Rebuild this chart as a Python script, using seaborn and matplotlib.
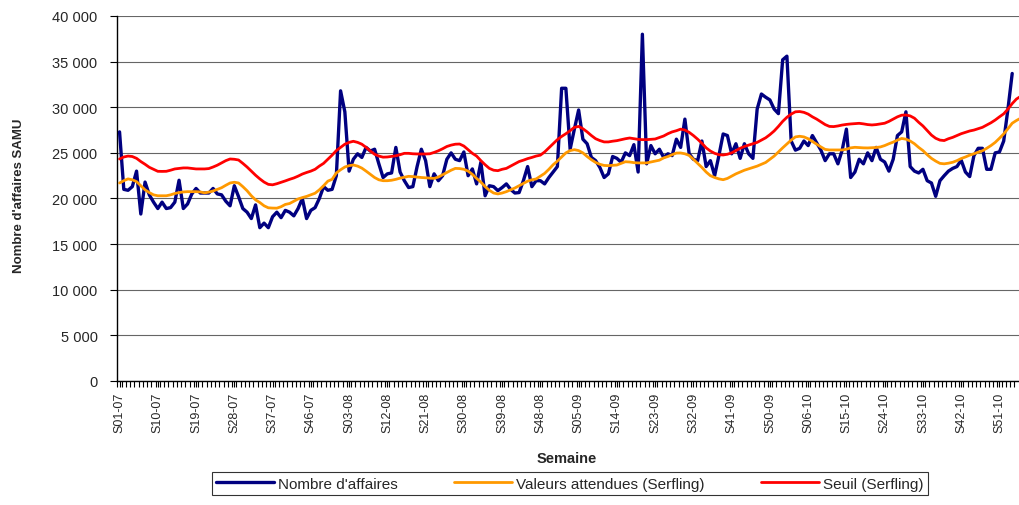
import numpy as np
import pandas as pd
import matplotlib
matplotlib.use("Agg")
import matplotlib.pyplot as plt
import seaborn as sns
from matplotlib.ticker import FixedLocator, FuncFormatter

# ---------------- data ----------------
nombre_affaires = [
    27300, 21000, 20900, 21300, 23000, 18300, 21800, 20400, 19600, 18900,
    19600, 18900, 19000, 19600, 22000, 18900, 19400, 20500, 21100, 20600,
    20600, 20600, 21100, 20500, 20400, 19700, 19200, 21400, 20200, 18900,
    18500, 17800, 19300, 16800, 17300, 16800, 18000, 18500, 17900, 18700,
    18500, 18100, 18900, 20000, 17800, 18700, 19000, 20000, 21300, 20900,
    21000, 22500, 31800, 29500, 23000, 24300, 24900, 24500, 25600, 25200,
    25400, 23800, 22300, 22700, 22800, 25600, 22900, 21950, 21200, 21300,
    23500, 25400, 24150, 21300, 22700, 21950, 22500, 24300, 25000, 24300,
    24150, 25100, 22500, 23240, 21600, 23970, 20300, 21400, 21300, 20860,
    21200, 21600, 21000, 20600, 20650, 21950, 23500, 21300, 21950, 21950,
    21600, 22300, 22900, 23500, 32080, 32080, 25400, 27600, 29700, 26500,
    26000, 24500, 24150, 23400, 22300, 22700, 24600, 24400, 23970, 25000,
    24700, 25900, 22900, 38000, 23800, 25800, 24900, 25400, 24500, 24900,
    24700, 26500, 25600, 28700, 24900, 24300, 24150, 26300, 23500, 24150,
    22500, 24700, 27070, 26900, 24900, 26000, 24400, 26000, 24900, 24400,
    29800, 31450, 31100, 30800, 29800, 29300, 35200, 35600, 26300, 25300,
    25500, 26300, 25800, 26900, 26100, 25300, 24150, 24900, 24900, 23800,
    25300, 27600, 22300, 22900, 24300, 23800, 25000, 24150, 25600, 24300,
    24000, 23000, 24300, 26900, 27300, 29500, 23500, 23000, 22800, 23200,
    21950, 21700, 20240, 21950, 22500, 23000, 23300, 23500, 24200, 22900,
    22400, 24700, 25500, 25500, 23200, 23200, 25000, 25100, 26300, 29800,
    33700,
]

valeurs_attendues = [
    21700, 21950, 22150, 22050, 21850, 21400, 20950, 20650, 20400, 20300,
    20300, 20300, 20400, 20550, 20650, 20720, 20750, 20750, 20750, 20720,
    20620, 20700, 20820, 21000, 21180, 21450, 21700, 21780, 21700, 21300,
    20850, 20300, 19850, 19560, 19200, 18980, 18950, 18940, 19100, 19350,
    19450, 19700, 19950, 20100, 20230, 20400, 20580, 20950, 21400, 21900,
    22100, 22800, 23150, 23450, 23600, 23670, 23550, 23330, 23000, 22650,
    22300, 22050, 21950, 21950, 22000, 22100, 22230, 22330, 22430, 22400,
    22350, 22300, 22270, 22230, 22200, 22350, 22600, 22850, 23100, 23300,
    23280, 23200, 23000, 22650, 22200, 21800, 21300, 20900, 20600, 20500,
    20600, 20750, 20950, 21150, 21400, 21650, 21900, 22050, 22140, 22450,
    22750, 23200, 23700, 24100, 24550, 25000, 25250, 25350, 25250, 25000,
    24600, 24250, 23950, 23750, 23620, 23600, 23630, 23670, 23850, 24030,
    24000, 23930, 23900, 23900, 23900, 24000, 24100, 24200, 24450, 24600,
    24800, 24980, 24990, 24900, 24720, 24300, 23850, 23400, 22900, 22500,
    22300, 22150, 22060, 22200, 22450, 22700, 22900, 23100, 23250, 23400,
    23550, 23750, 23950, 24300, 24650, 25100, 25550, 25980, 26400, 26750,
    26820, 26750, 26550, 26250, 25950, 25650, 25380, 25320, 25320, 25320,
    25320, 25400, 25550, 25610, 25580, 25550, 25540, 25560, 25590, 25650,
    25800, 26000, 26180, 26400, 26580, 26500, 26300, 26000, 25600, 25250,
    24800, 24400, 24100, 23850, 23800, 23870, 23970, 24150, 24380, 24550,
    24750, 24900, 25080, 25230, 25500, 25800, 26150, 26600, 27080, 27650,
    28250, 28550, 28800,
]

seuil = [
    24330, 24550, 24650, 24600, 24400, 24050, 23750, 23420, 23200, 22980,
    22970, 22980, 23100, 23240, 23300, 23350, 23350, 23300, 23240, 23240,
    23240, 23280, 23450, 23650, 23900, 24150, 24330, 24300, 24220, 23850,
    23450, 23000, 22550, 22150, 21800, 21550, 21500, 21620, 21770, 21930,
    22100, 22250, 22450, 22680, 22850, 23000, 23200, 23550, 23850, 24300,
    24750, 25250, 25600, 25950, 26150, 26270, 26150, 25950, 25600, 25200,
    24850, 24650, 24530, 24550, 24620, 24680, 24800, 24950, 24950, 24900,
    24880, 24880, 24880, 24900, 25050, 25230, 25450, 25700, 25850, 25950,
    25970, 25750, 25350, 24950, 24650, 24150, 23700, 23300, 23100, 23050,
    23200, 23300, 23550, 23800, 24050, 24200, 24370, 24500, 24650, 24750,
    25100, 25550, 26000, 26450, 26800, 27100, 27430, 27800, 27900, 27650,
    27300, 26900, 26550, 26350, 26200, 26200, 26280, 26340, 26450, 26550,
    26630, 26550, 26480, 26450, 26450, 26480, 26520, 26680, 26850, 27100,
    27300, 27430, 27600, 27500, 27250, 26900, 26500, 26050, 25550, 25200,
    24950, 24800, 24770, 24850, 25000, 25250, 25500, 25700, 25850, 26000,
    26150, 26400, 26650, 27000, 27400, 27900, 28450, 28900, 29250, 29500,
    29530, 29440, 29250, 28950, 28700, 28400, 28100, 27900, 27880, 27950,
    28050, 28120, 28170, 28200, 28240, 28180, 28100, 28060, 28100, 28180,
    28250, 28450, 28700, 28950, 29130, 29150, 29050, 28800, 28350, 27950,
    27450, 26950, 26600, 26400, 26350, 26550, 26700, 26900, 27100, 27250,
    27400, 27500, 27650, 27800, 28050, 28300, 28600, 28950, 29280, 29800,
    30400, 30900, 31200,
]

tick_labels = ["S01-07", "S10-07", "S19-07", "S28-07", "S37-07", "S46-07",
               "S03-08", "S12-08", "S21-08", "S30-08", "S39-08", "S48-08",
               "S05-09", "S14-09", "S23-09", "S32-09", "S41-09", "S50-09",
               "S06-10", "S15-10", "S24-10", "S33-10", "S42-10", "S51-10"]
tick_step = 9

series_names = ["Nombre d'affaires", "Valeurs attendues (Serfling)", "Seuil (Serfling)"]
y_ticks = [0, 5000, 10000, 15000, 20000, 25000, 30000, 35000, 40000]

# ---------------- figure ----------------
sns.set_theme(style="white")
plt.rcParams["font.family"] = ["Liberation Sans", "DejaVu Sans"]

W, H = 1019, 506
fig = plt.figure(figsize=(W / 100, H / 100), dpi=100)
ax = fig.add_axes([117 / W, 1 - 382 / H, (W - 117) / W, (382 - 17) / H])

df_b = pd.DataFrame({"semaine": np.arange(len(nombre_affaires)), "valeur": nombre_affaires})
df_o = pd.DataFrame({"semaine": np.arange(len(valeurs_attendues)), "valeur": valeurs_attendues})
df_r = pd.DataFrame({"semaine": np.arange(len(seuil)), "valeur": seuil})

sns.lineplot(data=df_b, x="semaine", y="valeur", ax=ax, color="#000080",
             linewidth=2.4, label=series_names[0], zorder=3)
sns.lineplot(data=df_o, x="semaine", y="valeur", ax=ax, color="#FF9900",
             linewidth=2.0, label=series_names[1], zorder=4)
sns.lineplot(data=df_r, x="semaine", y="valeur", ax=ax, color="#FF0000",
             linewidth=2.0, label=series_names[2], zorder=5)

ax.set_xlim(-0.6, 211.6)
ax.set_ylim(0, 40000)

# y axis
ax.yaxis.set_major_locator(FixedLocator(y_ticks))
ax.yaxis.set_major_formatter(FuncFormatter(lambda v, p: f"{int(v):,}".replace(",", " ")))
ax.grid(axis="y", color="#666666", linewidth=0.8)
ax.grid(axis="x", visible=False)
ax.set_axisbelow(True)

# x axis
positions = np.arange(len(tick_labels)) * tick_step
ax.set_xticks(positions)
ax.set_xticklabels(tick_labels, rotation=90)
ax.xaxis.set_minor_locator(FixedLocator(np.arange(0, 212) - 0.5))

ax.tick_params(axis="x", which="both", direction="out", length=4, width=0.8,
               color="black", bottom=True, pad=4, labelsize=9)
ax.tick_params(axis="y", which="major", direction="out", length=5, width=0.8,
               color="black", left=True, pad=9, labelsize=10.5)

for s in ["top", "right"]:
    ax.spines[s].set_visible(False)
for s in ["left", "bottom"]:
    ax.spines[s].set_color("black")
    ax.spines[s].set_linewidth(1.0)

ax.set_ylabel("Nombre d'affaires SAMU", fontsize=9.5, fontweight="bold")
ax.yaxis.set_label_coords(-0.102, 0.51)
ax.set_xlabel("Semaine", fontsize=10.5, fontweight="bold")
ax.xaxis.set_label_coords(0.499, -0.192)

leg = ax.legend(loc="lower center", bbox_to_anchor=(570 / W, 2 / H),
                bbox_transform=fig.transFigure, ncol=3, frameon=True,
                fancybox=False, edgecolor="black", fontsize=11,
                handlelength=3.8, handletextpad=0.25, columnspacing=3.7,
                borderpad=0.3)
leg.get_frame().set_linewidth(0.8)

fig.savefig("out.png", dpi=100)
